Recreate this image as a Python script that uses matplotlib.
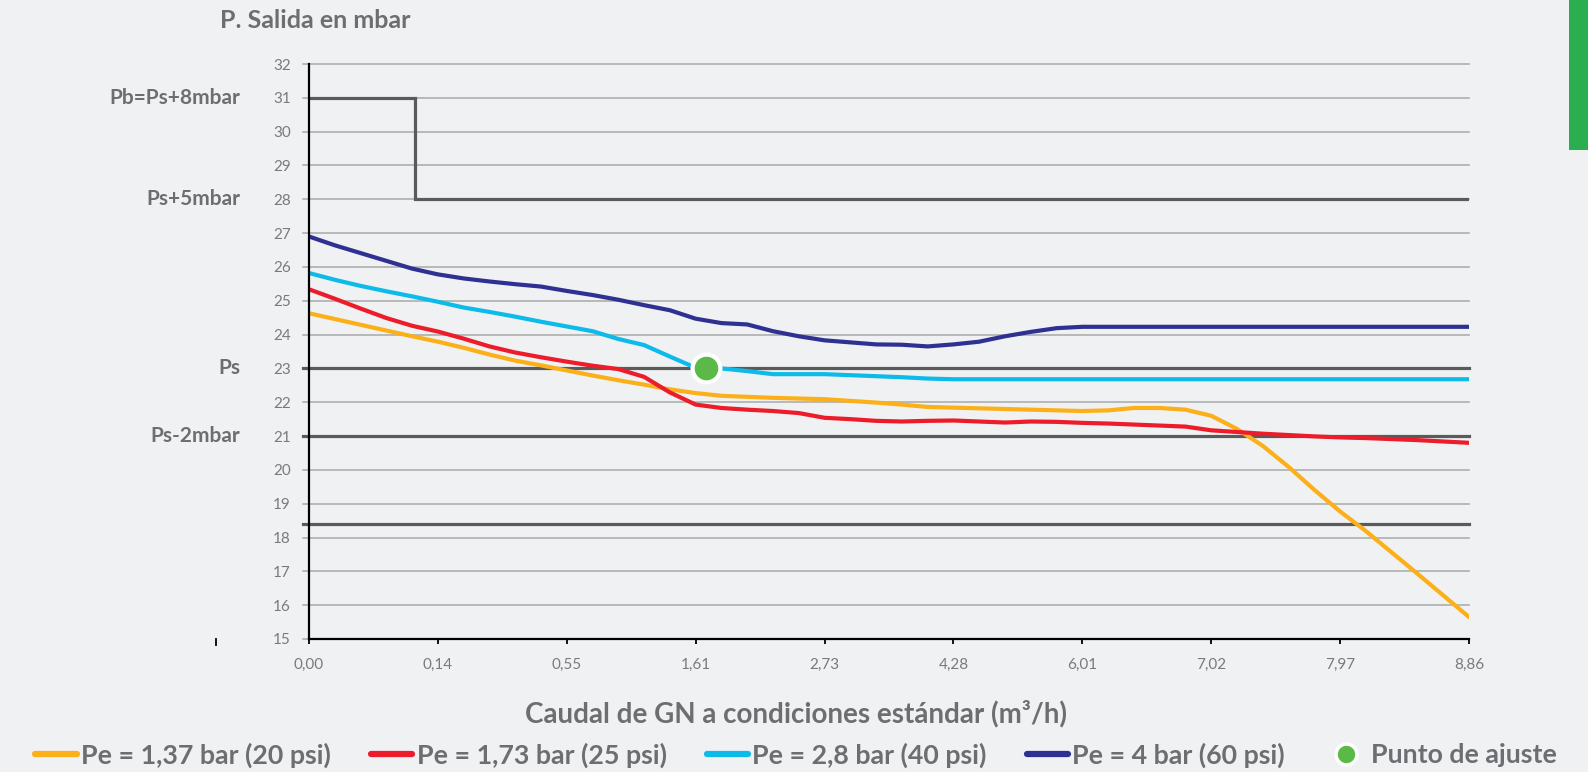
import matplotlib
matplotlib.use("Agg")
from matplotlib import pyplot as plt
from matplotlib import transforms
from matplotlib.lines import Line2D
from matplotlib.patches import Rectangle

plt.rcParams['font.family'] = ['Lato', 'DejaVu Sans']

# etiquetas del eje x (caudal m3/h), una cada 5 puntos
etiquetas_x = ['0,00', '0,14', '0,55', '1,61', '2,73', '4,28', '6,01', '7,02', '7,97', '8,86']

# presion de salida (mbar) por punto de caudal
pe_137 = [24.63, 24.46, 24.29, 24.12, 23.95, 23.79, 23.61, 23.41, 23.23, 23.09,
          22.94, 22.79, 22.65, 22.52, 22.38, 22.27, 22.19, 22.16, 22.13, 22.11,
          22.09, 22.04, 21.99, 21.93, 21.86, 21.84, 21.82, 21.80, 21.78, 21.76,
          21.74, 21.76, 21.83, 21.83, 21.78, 21.60, 21.21, 20.71, 20.09, 19.41,
          18.77, 18.19, 17.56, 16.93, 16.29, 15.65]
pe_173 = [25.34, 25.06, 24.77, 24.49, 24.26, 24.09, 23.88, 23.65, 23.47, 23.33,
          23.20, 23.08, 22.98, 22.75, 22.29, 21.93, 21.83, 21.78, 21.74, 21.68,
          21.54, 21.50, 21.45, 21.43, 21.45, 21.46, 21.43, 21.40, 21.43, 21.42,
          21.39, 21.37, 21.34, 21.31, 21.28, 21.17, 21.12, 21.07, 21.03, 20.99,
          20.96, 20.94, 20.91, 20.88, 20.84, 20.80]
pe_28 = [25.82, 25.62, 25.44, 25.28, 25.13, 24.97, 24.80, 24.67, 24.53, 24.38,
         24.24, 24.10, 23.87, 23.69, 23.35, 23.02, 23.00, 22.92, 22.83, 22.83,
         22.83, 22.80, 22.77, 22.74, 22.70, 22.68, 22.68, 22.68, 22.68, 22.68,
         22.68, 22.68, 22.68, 22.68, 22.68, 22.68, 22.68, 22.68, 22.68, 22.68,
         22.68, 22.68, 22.68, 22.68, 22.68, 22.68]
pe_4 = [26.90, 26.64, 26.41, 26.18, 25.95, 25.78, 25.66, 25.57, 25.49, 25.42,
        25.29, 25.17, 25.03, 24.87, 24.72, 24.47, 24.34, 24.30, 24.10, 23.95,
        23.83, 23.77, 23.71, 23.70, 23.65, 23.71, 23.79, 23.95, 24.08, 24.19,
        24.23, 24.23, 24.23, 24.23, 24.23, 24.23, 24.23, 24.23, 24.23, 24.23,
        24.23, 24.23, 24.23, 24.23, 24.23, 24.23]

# punto de ajuste
ajuste_x = 15.4
ajuste_y = 23.0

# limite Pb / Ps+5mbar (escalon)
limite_x = [0, 4.1, 4.1, 45]
limite_y = [31, 31, 28, 28]

# referencias horizontales
refs = [23, 21, 18.4]
refs_texto = {31: 'Pb=Ps+8mbar', 28: 'Ps+5mbar', 23: 'Ps', 21: 'Ps-2mbar'}

fondo = '#f0f1f3'
gris_txt = '#6d6e71'
c_nar = '#fbb019'
c_roj = '#ed1c2a'
c_cel = '#0cbbe9'
c_azu = '#2e3192'
c_ver = '#5bb947'

fig = plt.figure(figsize=(15.88, 7.72), dpi=100, facecolor=fondo)
ax = fig.add_axes([309 / 1588, 1 - 639 / 772, 1160 / 1588, 575 / 772])
ax.set_facecolor(fondo)

x = list(range(len(pe_4)))

# rejilla
for v in range(15, 33):
    ax.axhline(v, xmin=-0.005, color='#a8a8a8', lw=1.1, zorder=1, clip_on=False)
for v in refs:
    ax.axhline(v, xmin=-0.005, color='#5a5a5a', lw=2.3, zorder=2, clip_on=False)
ax.plot(limite_x, limite_y, color='#5a5a5a', lw=2.3, zorder=2, solid_joinstyle='miter')

ax.plot(x, pe_137, color=c_nar, lw=3, zorder=3, solid_capstyle='round')
ax.plot(x, pe_173, color=c_roj, lw=3, zorder=4, solid_capstyle='round')
ax.plot(x, pe_28, color=c_cel, lw=3, zorder=5, solid_capstyle='round')
ax.plot(x, pe_4, color=c_azu, lw=3, zorder=6, solid_capstyle='round')
ax.plot([ajuste_x], [ajuste_y], 'o', color=c_ver, markersize=20, markeredgecolor='white',
        markeredgewidth=3, zorder=7)

ax.set_xlim(0, 45)
ax.set_ylim(15, 32)
ax.set_yticks(range(15, 33))
ax.set_xticks(range(0, 46, 5))
ax.set_xticklabels(etiquetas_x)
ax.tick_params(axis='y', length=0, pad=13, labelsize=11, labelcolor='#7a7a7a')
ax.tick_params(axis='x', length=3.6, width=1.3, color='black', pad=10, labelsize=11,
               labelcolor='#7a7a7a')

for s in ['top', 'right']:
    ax.spines[s].set_visible(False)
ax.spines['left'].set_color('black')
ax.spines['left'].set_linewidth(1.6)
ax.spines['bottom'].set_color('black')
ax.spines['bottom'].set_linewidth(1.6)
ax.spines['left'].set_zorder(8)
ax.spines['bottom'].set_zorder(8)

trans = transforms.blended_transform_factory(fig.transFigure, ax.transData)
for v, t in refs_texto.items():
    ax.text(240 / 1588, v, t, transform=trans, ha='right', va='center', fontsize=15,
            fontweight='bold', color=gris_txt)

fig.text(220 / 1588, 1 - 20 / 772, 'P. Salida en mbar', ha='left', va='center',
         fontsize=18, fontweight='bold', color=gris_txt)
fig.text(796 / 1588, 1 - 714 / 772, 'Caudal de GN a condiciones estándar (m³/h)',
         ha='center', va='center', fontsize=20, fontweight='bold', color=gris_txt)

# marca suelta a la izquierda del eje
fig.add_artist(Line2D([216 / 1588, 216 / 1588], [1 - 639 / 772, 1 - 645 / 772],
                      color='black', lw=1.3, transform=fig.transFigure))

# franja verde arriba a la derecha
fig.add_artist(Rectangle((1569 / 1588, 1 - 150 / 772), 19 / 1588, 150 / 772,
                         transform=fig.transFigure, color='#2aae4f', lw=0))

handles = [Line2D([], [], color=c_nar, lw=4.5, solid_capstyle='round'),
           Line2D([], [], color=c_roj, lw=4.5, solid_capstyle='round'),
           Line2D([], [], color=c_cel, lw=4.5, solid_capstyle='round'),
           Line2D([], [], color=c_azu, lw=4.5, solid_capstyle='round'),
           Line2D([], [], color=c_ver, marker='o', ls='none', markersize=15,
                  markeredgecolor='white', markeredgewidth=2.5)]
labels = ['Pe = 1,37 bar (20 psi)', 'Pe = 1,73 bar (25 psi)', 'Pe = 2,8 bar (40 psi)',
          'Pe = 4 bar (60 psi)', 'Punto de ajuste']
leg = fig.legend(handles, labels, loc='center', bbox_to_anchor=(796 / 1588, 1 - 755 / 772),
                 ncol=5, frameon=False, handlelength=1.55, handletextpad=0.15,
                 columnspacing=1.5, borderaxespad=0, borderpad=0,
                 prop={'size': 19.3, 'weight': 'bold'})
for t in leg.get_texts():
    t.set_color(gris_txt)

fig.savefig('out.png', dpi=100, facecolor=fondo)
